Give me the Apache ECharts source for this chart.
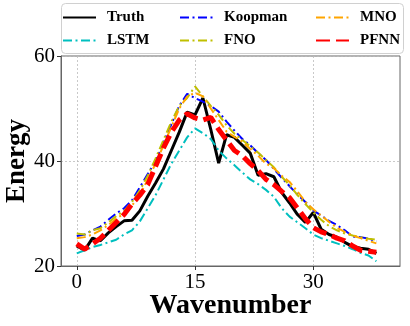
<!DOCTYPE html>
<html>
<head>
<meta charset="utf-8">
<script src="https://cdn.jsdelivr.net/npm/echarts@6/dist/echarts.min.js"></script>
<style>
  html, body { margin: 0; padding: 0; background: #fff; }
  #chart { width: 410px; height: 326px; }
</style>
</head>
<body>
<div id="chart"></div>
<script>
const wavenumbers = [0, 1, 2, 3, 4, 5, 6, 7, 8, 9, 10, 11, 12, 13, 14, 15, 16, 17, 18, 19,
    20, 21, 22, 23, 24, 25, 26, 27, 28, 29, 30, 31, 32, 33, 34, 35, 36, 37, 38];
const xTicks = [0, 15, 30];
const yTicks = [20, 40, 60];

const truth = [23.8, 23.0, 25.3, 24.8, 26.3, 27.5, 28.6, 28.7, 30.5, 33.3, 35.8, 38.5, 42.0, 45.5, 49.3, 48.8, 52.0, 46.0, 39.6, 45.0,
    44.5, 43.0, 41.5, 37.3, 37.6, 37.0, 34.0, 32.0, 29.8, 28.3, 30.2, 27.0, 26.0, 25.5, 24.5, 23.7, 23.4, 23.2, 22.4];
const lstm = [22.4, 23.0, 23.6, 24.0, 24.5, 25.0, 26.0, 26.8, 28.5, 31.0, 33.5, 36.5, 39.5, 42.0, 44.5, 46.2, 45.3, 44.2, 42.0, 40.5,
    39.2, 37.8, 36.5, 35.6, 34.5, 33.2, 31.0, 29.4, 28.3, 27.2, 26.0, 25.3, 24.8, 24.3, 23.8, 23.2, 22.5, 22.0, 20.9];
const koopman = [25.7, 26.0, 26.8, 27.5, 28.8, 30.0, 31.0, 32.5, 35.0, 37.5, 40.0, 43.5, 47.0, 50.5, 52.8, 52.0, 51.3, 50.5, 49.4, 47.5,
    45.8, 44.2, 43.0, 41.5, 40.2, 38.5, 36.8, 35.2, 33.6, 32.2, 30.6, 29.6, 28.6, 27.8, 26.8, 25.6, 25.5, 25.2, 24.7];
const fno = [26.2, 26.0, 26.8, 27.2, 28.3, 29.5, 30.5, 32.2, 34.4, 37.2, 40.5, 44.0, 47.5, 50.5, 52.0, 54.2, 52.3, 50.5, 48.8, 46.8,
    45.2, 44.0, 42.8, 41.6, 40.2, 38.8, 37.0, 35.4, 33.5, 31.8, 30.2, 28.8, 27.6, 26.8, 26.2, 25.8, 25.5, 25.2, 25.0];
const mno = [25.3, 25.5, 26.0, 26.8, 27.8, 29.0, 30.0, 31.5, 33.5, 36.5, 39.5, 43.0, 46.5, 50.0, 52.3, 53.0, 52.3, 50.0, 47.8, 45.6,
    44.6, 43.7, 42.3, 41.0, 39.5, 38.6, 37.2, 36.0, 34.2, 32.2, 30.8, 29.6, 28.4, 27.3, 26.5, 25.8, 25.3, 24.8, 24.3];
const pfnn = [24.2, 23.2, 24.2, 25.3, 26.8, 28.3, 29.8, 31.8, 33.5, 35.5, 39.0, 42.5, 45.5, 47.8, 49.0, 48.2, 47.8, 48.3, 46.0, 44.0,
    42.0, 41.0, 39.5, 38.2, 36.5, 35.5, 34.2, 33.0, 31.0, 29.0, 27.3, 26.5, 26.0, 25.3, 24.8, 23.8, 23.0, 22.8, 22.6];

const font = 'Liberation Serif';
const dashDot = [9, 3.5, 2, 3.5];

function pairs(vals) {
    return wavenumbers.map((x, i) => [x, vals[i]]);
}

function line(name, vals, color, width, type) {
    return {
        name: name,
        type: 'line',
        data: pairs(vals),
        symbol: 'none',
        animation: false,
        lineStyle: {color: color, width: width, type: type, cap: 'butt'},
        itemStyle: {color: color}
    };
}

const legendText = {fontFamily: font, fontWeight: 'bold', fontSize: 15, color: '#000', padding: [0, 0, 0, 6]};
function legendCol(left, names) {
    return {
        orient: 'vertical', left: left, top: 10, padding: 0, itemWidth: 33, itemHeight: 14, itemGap: 8,
        itemStyle: {color: 'rgba(0,0,0,0)', borderWidth: 0, opacity: 0},
        textStyle: legendText, data: names
    };
}

const chart = echarts.init(document.getElementById('chart'));
chart.setOption({
    animation: false,
    grid: {
        left: 61, right: 10, top: 56, bottom: 60, outerBoundsMode: 'none',
        show: true, borderColor: '#666', borderWidth: 1
    },
    graphic: [{
        type: 'rect', left: 61, top: 3, z: 0,
        shape: {width: 342, height: 50, r: 4},
        style: {fill: '#fff', stroke: '#d0d0d0', lineWidth: 1}
    }],
    legend: [
        legendCol(62, ['Truth', 'LSTM']),
        legendCol(179, ['Koopman', 'FNO']),
        legendCol(315, ['MNO', 'PFNN'])
    ],
    xAxis: {
        type: 'value', min: -2, max: 41,
        name: 'Wavenumber', nameLocation: 'middle', nameGap: 26, nameMoveOverlap: false,
        nameTextStyle: {fontFamily: font, fontWeight: 'bold', fontSize: 28, color: '#000'},
        axisLine: {show: true, onZero: false, lineStyle: {color: '#666'}},
        axisTick: {show: true, length: 4, customValues: xTicks, lineStyle: {color: '#333'}},
        axisLabel: {customValues: xTicks, fontFamily: font, fontSize: 21, color: '#000', margin: 6},
        splitLine: {show: true, lineStyle: {color: '#bbb', type: [2, 2], width: 0.8}}
    },
    yAxis: {
        type: 'value', min: 20, max: 60, interval: 20,
        name: 'Energy', nameLocation: 'middle', nameGap: 30, nameMoveOverlap: false,
        nameTextStyle: {fontFamily: font, fontWeight: 'bold', fontSize: 27, color: '#000'},
        axisLine: {show: true, onZero: false, lineStyle: {color: '#666'}},
        axisTick: {show: true, length: 4, lineStyle: {color: '#333'}},
        axisLabel: {fontFamily: font, fontSize: 21, color: '#000', margin: 6},
        splitLine: {show: true, lineStyle: {color: '#bbb', type: [2, 2], width: 0.8}}
    },
    series: [
        line('Truth', truth, '#000000', 3, 'solid'),
        line('LSTM', lstm, '#00BFBF', 2, dashDot),
        line('Koopman', koopman, '#0000FF', 2, dashDot),
        line('FNO', fno, '#BFBF00', 2, dashDot),
        line('MNO', mno, '#FFA500', 2, dashDot),
        line('PFNN', pfnn, '#FF0000', 5, [14, 6])
    ]
});
window.addEventListener('resize', () => chart.resize());
</script>
</body>
</html>
